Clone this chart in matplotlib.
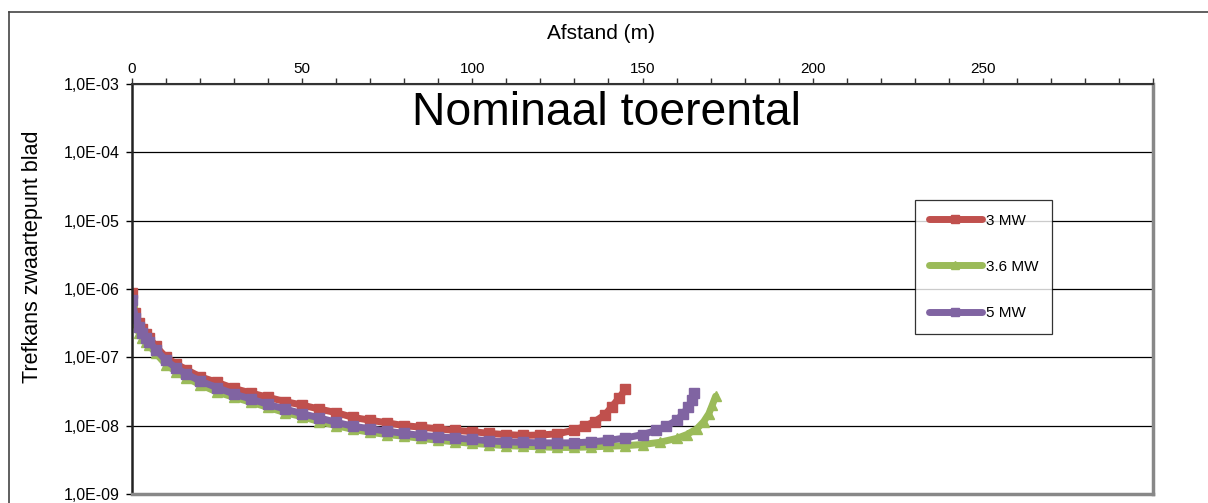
import matplotlib
matplotlib.use("Agg")
import matplotlib.pyplot as plt
from matplotlib.lines import Line2D
from matplotlib.ticker import FixedLocator, MultipleLocator

plt.rcParams['font.family'] = ['Liberation Sans', 'DejaVu Sans']

# ---- data ----
series_names = ["3 MW", "3.6 MW", "5 MW"]

x_3mw = [0, 1, 2, 3, 4, 5, 7, 10, 13, 16, 20, 25, 30, 35, 40, 45, 50, 55, 60, 65, 70,
         75, 80, 85, 90, 95, 100, 105, 110, 115, 120, 125, 130, 133, 136, 139, 141, 143, 145]
y_3mw = [8.7e-7, 4.5e-7, 3.2e-7, 2.6e-7, 2.2e-7, 1.95e-7, 1.45e-7, 1.0e-7, 8.0e-8, 6.6e-8,
         5.2e-8, 4.3e-8, 3.5e-8, 3.0e-8, 2.6e-8, 2.25e-8, 2.0e-8, 1.75e-8, 1.55e-8, 1.32e-8,
         1.2e-8, 1.1e-8, 1.0e-8, 9.5e-9, 9.0e-9, 8.5e-9, 8.2e-9, 7.7e-9, 7.4e-9, 7.2e-9,
         7.3e-9, 7.6e-9, 8.6e-9, 9.8e-9, 1.15e-8, 1.45e-8, 1.9e-8, 2.5e-8, 3.4e-8]

x_36mw = [0, 1, 2, 3, 4, 5, 7, 10, 13, 16, 20, 25, 30, 35, 40, 45, 50, 55, 60, 65, 70, 75,
          80, 85, 90, 95, 100, 105, 110, 115, 120, 125, 130, 135, 140, 145, 150, 155, 160,
          163, 166, 168, 169.5, 170.5, 171.5]
y_36mw = [6.5e-7, 3.3e-7, 2.3e-7, 1.95e-7, 1.7e-7, 1.5e-7, 1.15e-7, 7.8e-8, 6.2e-8, 5.0e-8,
          4.0e-8, 3.1e-8, 2.6e-8, 2.2e-8, 1.85e-8, 1.55e-8, 1.35e-8, 1.15e-8, 1.0e-8, 8.8e-9,
          8.0e-9, 7.4e-9, 7.0e-9, 6.5e-9, 6.1e-9, 5.8e-9, 5.5e-9, 5.3e-9, 5.1e-9, 5.0e-9,
          4.9e-9, 4.8e-9, 4.8e-9, 4.9e-9, 5.0e-9, 5.1e-9, 5.3e-9, 5.7e-9, 6.5e-9, 7.4e-9,
          9.0e-9, 1.15e-8, 1.5e-8, 2.0e-8, 2.7e-8]

x_5mw = [0, 1, 2, 3, 4, 5, 7, 10, 13, 16, 20, 25, 30, 35, 40, 45, 50, 55, 60, 65, 70, 75,
         80, 85, 90, 95, 100, 105, 110, 115, 120, 125, 130, 135, 140, 145, 150, 154, 157,
         160, 162, 163.5, 164.5, 165]
y_5mw = [7.0e-7, 3.8e-7, 2.8e-7, 2.3e-7, 1.95e-7, 1.7e-7, 1.3e-7, 9.0e-8, 7.0e-8, 5.7e-8,
         4.5e-8, 3.6e-8, 2.9e-8, 2.45e-8, 2.05e-8, 1.75e-8, 1.5e-8, 1.3e-8, 1.12e-8, 9.8e-9,
         9.0e-9, 8.3e-9, 7.7e-9, 7.2e-9, 6.9e-9, 6.6e-9, 6.3e-9, 6.0e-9, 5.8e-9, 5.7e-9,
         5.6e-9, 5.6e-9, 5.6e-9, 5.8e-9, 6.1e-9, 6.6e-9, 7.4e-9, 8.5e-9, 9.8e-9, 1.2e-8,
         1.5e-8, 1.9e-8, 2.4e-8, 3.0e-8]

y_ticks = [1e-9, 1e-8, 1e-7, 1e-6, 1e-5, 1e-4, 1e-3]
y_tick_labels = ["1,0E-09", "1,0E-08", "1,0E-07", "1,0E-06", "1,0E-05", "1,0E-04", "1,0E-03"]
x_ticks = [0, 50, 100, 150, 200, 250]
x_tick_labels = ["0", "50", "100", "150", "200", "250"]

colors = ["#C0504D", "#9BBB59", "#8064A2"]
markers = ["s", "^", "s"]

W, H = 1208, 503
fig = plt.figure(figsize=(W / 100, H / 100), dpi=100)
ax = fig.add_axes([132 / W, 1 - 494 / H, (1153 - 132) / W, (494 - 84) / H])

for xs, ys, c, m, name in [(x_3mw, y_3mw, colors[0], markers[0], series_names[0]),
                           (x_36mw, y_36mw, colors[1], markers[1], series_names[1]),
                           (x_5mw, y_5mw, colors[2], markers[2], series_names[2])]:
    ax.plot(xs, ys, color=c, lw=5, marker=m, ms=6.5, mec=c, mfc=c,
            solid_capstyle='round', label=name)

ax.set_yscale('log')
ax.set_ylim(1e-9, 1e-3)
ax.set_xlim(0, 300)
ax.yaxis.set_major_locator(FixedLocator(y_ticks))
ax.yaxis.set_minor_locator(FixedLocator([]))
ax.set_yticklabels(y_tick_labels)
ax.grid(axis='y', which='major', color='black', lw=0.9)
ax.set_axisbelow(True)

ax.xaxis.tick_top()
ax.set_xticks(x_ticks)
ax.set_xticklabels(x_tick_labels)
ax.xaxis.set_minor_locator(MultipleLocator(10))
ax.tick_params(axis='x', which='both', direction='out', length=4, width=1, labelsize=11,
               pad=2, color='#333333')
ax.tick_params(axis='y', which='major', direction='out', length=4, width=1, labelsize=11.5,
               pad=5)

ax.spines['left'].set_linewidth(1.8)
ax.spines['left'].set_color('#222222')
ax.spines['top'].set_linewidth(1.5)
ax.spines['top'].set_color('#333333')
ax.spines['right'].set_linewidth(2.5)
ax.spines['right'].set_color('#888888')
ax.spines['bottom'].set_linewidth(2.5)
ax.spines['bottom'].set_color('#888888')

fig.text(601 / W, 1 - 33 / H, "Afstand (m)", ha='center', va='center', fontsize=15)
fig.text(33 / W, 1 - 257 / H, "Trefkans zwaartepunt blad", ha='center', va='center',
         rotation=90, fontsize=15.5)

ax.text(0.465, 0.93, "Nominaal toerental", transform=ax.transAxes, ha='center',
        va='center', fontsize=33.3)

leg = ax.legend(loc='upper left', bbox_to_anchor=((915 - 132) / (1153 - 132), 1 - (200 - 84) / 410),
                frameon=True, fancybox=False, edgecolor='black', fontsize=11,
                handlelength=3.5, labelspacing=2.1, borderpad=0.9, handletextpad=0.25,
                borderaxespad=0)
leg.get_frame().set_linewidth(0.9)
for h in leg.legend_handles:
    h.set_markersize(6)

# outer chart border
fig.add_artist(Line2D([9 / W, 1.0], [1 - 12 / H, 1 - 12 / H], transform=fig.transFigure,
                      color='#444444', lw=1.2))
fig.add_artist(Line2D([9 / W, 9 / W], [0, 1 - 12 / H], transform=fig.transFigure,
                      color='#444444', lw=1.2))

fig.savefig("out.png", dpi=100)
